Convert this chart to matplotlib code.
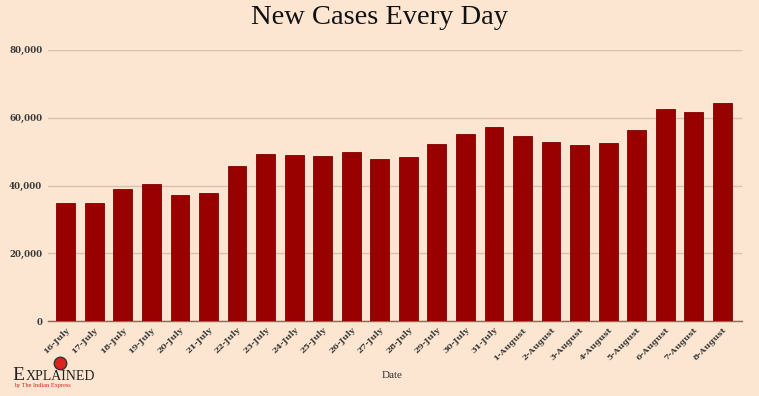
import matplotlib.pyplot as plt
from matplotlib.lines import Line2D

# Daten: neue Fälle pro Tag
dates = ["16-July", "17-July", "18-July", "19-July", "20-July", "21-July",
         "22-July", "23-July", "24-July", "25-July", "26-July", "27-July",
         "28-July", "29-July", "30-July", "31-July", "1-August", "2-August",
         "3-August", "4-August", "5-August", "6-August", "7-August", "8-August"]
cases = [34956, 34884, 38902, 40425, 37148, 37724, 45720, 49310, 48916, 48661,
         49931, 47704, 48513, 52123, 55079, 57118, 54735, 52972, 52050, 52509,
         56282, 62538, 61537, 64399]
y_ticks = [0, 20000, 40000, 60000, 80000]

bg = "#fce6d1"
bar_color = "#990000"
serif = ["Liberation Serif", "DejaVu Serif"]
wide_serif = ["DejaVu Serif"]

fig = plt.figure(figsize=(7.59, 3.96), dpi=100, facecolor=bg)
ax = fig.add_axes([0.063, 0.189, 0.915, 0.685])
ax.set_facecolor(bg)

x = range(len(dates))
ax.bar(x, cases, width=0.66, color=bar_color, edgecolor="#7a0000", linewidth=0.6, zorder=3)

ax.set_xlim(-0.63, 23.7)
ax.set_ylim(0, 80000)
ax.set_yticks(y_ticks)
ax.set_yticklabels([f"{v:,}" for v in y_ticks], fontfamily=wide_serif, fontsize=6.2,
                   fontweight="bold", color="#3a3a3a")
ax.set_xticks(list(x))
ax.set_xticklabels(dates, rotation=45, ha="right", rotation_mode="anchor",
                   fontfamily=wide_serif, fontsize=6.1, fontweight="bold", color="#3a3a3a")
ax.tick_params(axis="y", length=0, pad=4)
ax.tick_params(axis="x", length=0, pad=3)
for lbl in ax.get_xticklabels():
    lbl.set_x(lbl.get_position()[0])

ax.grid(axis="y", color="#d8c0ae", linewidth=1, zorder=0)
for s in ["top", "right", "left"]:
    ax.spines[s].set_visible(False)
ax.spines["bottom"].set_color("#8a6a55")
ax.spines["bottom"].set_linewidth(1)

fig.text(0.5, 0.955, "New Cases Every Day", ha="center", va="center",
         fontfamily=serif, fontsize=20.5, color="#111111")
fig.text(0.517, 0.053, "Date", ha="center", va="center",
         fontfamily=serif, fontsize=8, color="#333333")

# Logo unten links
fig.text(0.016, 0.04, "E", fontfamily=serif, fontsize=14, color="#222222", va="baseline")
fig.text(0.034, 0.04, "XPLAINED", fontfamily=serif, fontsize=10, color="#222222", va="baseline")
fig.text(0.018, 0.022, "by The Indian Express", fontfamily=serif, fontsize=4.5,
         color="#cc2222", va="baseline")
fig.add_artist(Line2D([0.079], [0.083], transform=fig.transFigure, marker="o",
                      markersize=9, markerfacecolor="#dd2222",
                      markeredgecolor="#333333", markeredgewidth=1.0))

fig.savefig("out.png", dpi=100, facecolor=bg)
